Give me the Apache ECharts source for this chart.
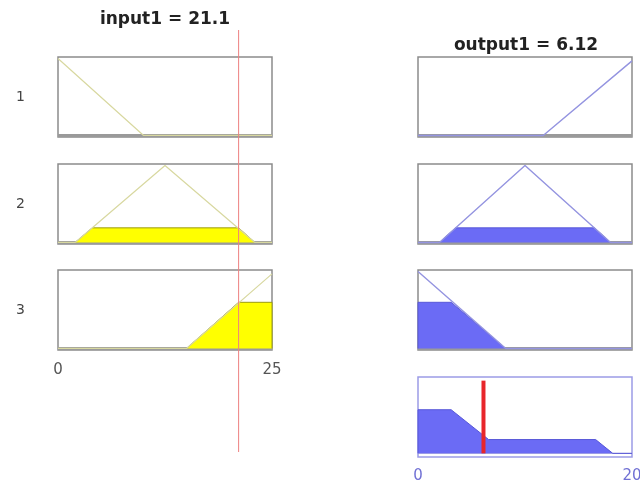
<!DOCTYPE html>
<html>
<head>
<meta charset="UTF-8">
<title>Rule viewer</title>
<style>
  * { margin: 0; padding: 0; }
  #main { width: 640px; height: 487px; background: #fff; }
</style>
<script src="https://cdn.jsdelivr.net/npm/echarts@6/dist/echarts.min.js"></script>
</head>
<body>
<div id="main"></div>
<script>
// values
var inputName = 'input1', inputValue = 21.1, inputRange = [0, 25];
var outputName = 'output1', outputValue = 6.12, outputRange = [0, 20];
var ruleLabels = ['1', '2', '3'];

// membership functions (x, degree)
var inMf1 = [[0, 1], [10, 0], [25, 0]];
var inMf2 = [[0, 0], [2, 0], [12.5, 1], [23, 0], [25, 0]];
var inMf3 = [[0, 0], [15, 0], [25, 0.97]];
var inFill2 = [[2, 0], [4, 0.19], [21.1, 0.19], [23, 0]];
var inFill3 = [[15, 0], [21.1, 0.6], [25, 0.6], [25, 0]];

var outMf1 = [[0, 0], [11.7, 0], [20, 0.97]];
var outMf2 = [[0, 0], [2, 0], [10, 1], [18, 0], [20, 0]];
var outMf3 = [[0, 1], [8.2, 0], [20, 0]];
var outFill2 = [[2, 0], [3.5, 0.19], [16.5, 0.19], [18, 0]];
var outFill3 = [[0, 0], [0, 0.6], [3.1, 0.6], [8.2, 0]];
var aggregate = [[0, 0], [0, 0.6], [3.1, 0.6], [6.6, 0.19], [16.6, 0.19], [18.2, 0], [20, 0]];

var inMfs = [inMf1, inMf2, inMf3];
var inFills = [null, inFill2, inFill3];
var outMfs = [outMf1, outMf2, outMf3];
var outFills = [null, outFill2, outFill3];

var font = 'DejaVu Sans';
var panelTops = [57, 164, 270];
var grids = [], xAxes = [], yAxes = [], series = [];

function addPanel(left, top, range, opts) {
  var i = grids.length;
  grids.push({
    left: left, top: top, width: 214, height: opts.height || 80,
    outerBoundsMode: 'none', containLabel: false,
    show: opts.border !== false,
    borderColor: opts.borderColor || '#8c8c8c', borderWidth: 1.5,
    backgroundColor: 'transparent'
  });
  xAxes.push({
    gridIndex: i, type: 'value', min: range[0], max: range[1],
    interval: range[1] - range[0],
    axisLine: { show: false }, axisTick: { show: false },
    splitLine: { show: false },
    axisLabel: {
      show: !!opts.labels, margin: opts.margin || 12,
      color: opts.labelColor || '#555', fontFamily: font, fontSize: 15
    }
  });
  yAxes.push({
    gridIndex: i, type: 'value', min: opts.ymin, max: opts.ymax,
    axisLine: { show: false }, axisTick: { show: false },
    splitLine: { show: false }, axisLabel: { show: false },
    name: opts.name || '', nameLocation: 'middle', nameRotate: 0, nameGap: 33,
    nameTextStyle: { color: '#444', fontFamily: font, fontSize: 14 }
  });
  return i;
}

function lineSeries(idx, data, color, width, z) {
  series.push({
    type: 'line', xAxisIndex: idx, yAxisIndex: idx, data: data,
    symbol: 'none', silent: true, animation: false, z: z || 3,
    lineStyle: { color: color, width: width }
  });
}

function fillSeries(idx, data, fill, edge) {
  series.push({
    type: 'line', xAxisIndex: idx, yAxisIndex: idx, data: data,
    symbol: 'none', silent: true, animation: false, z: 2,
    lineStyle: { color: edge, width: 1 },
    areaStyle: { color: fill, opacity: 1 }
  });
}

// input column
for (var r = 0; r < 3; r++) {
  var gi = addPanel(58, panelTops[r], inputRange, {
    ymin: -0.02, ymax: 1.02, name: ruleLabels[r], labels: r === 2, margin: 13
  });
  if (inFills[r]) fillSeries(gi, inFills[r], '#ffff00', '#9a9a10');
  lineSeries(gi, inMfs[r], '#d8d8a0', 1.2);
  lineSeries(gi, [[inputRange[0], 0], [inputRange[1], 0]], '#9a9a9a', 3, 1);
}

// output column
for (var r2 = 0; r2 < 3; r2++) {
  var go = addPanel(418, panelTops[r2], outputRange, { ymin: -0.02, ymax: 1.02 });
  if (outFills[r2]) fillSeries(go, outFills[r2], '#6b6bf5', '#5858d8');
  lineSeries(go, outMfs[r2], '#9494e0', 1.4);
  lineSeries(go, [[outputRange[0], 0], [outputRange[1], 0]], '#9a9a9a', 3, 1);
}

// aggregated output
var ga = addPanel(418, 377, outputRange, {
  ymin: -0.05, ymax: 1.05, labels: true, margin: 12,
  labelColor: '#7070d4', borderColor: '#9c9ce6'
});
fillSeries(ga, aggregate, '#6b6bf5', '#5858d8');
lineSeries(ga, [[outputRange[0], 0], [outputRange[1], 0]], '#a0a0dc', 1, 1);
lineSeries(ga, [[outputValue, 0], [outputValue, 1]], '#e8262b', 4, 5);

// input value line across the whole column
var gl = addPanel(58, 30, inputRange, { ymin: 0, ymax: 1, border: false, height: 422 });
lineSeries(gl, [[inputValue, 0], [inputValue, 1]], '#ee8080', 1, 6);

var myChart = echarts.init(document.getElementById('main'));
myChart.setOption({
  backgroundColor: '#fff',
  animation: false,
  title: [
    { text: inputName + ' = ' + inputValue, left: 160, top: 6, textAlign: 'center',
      textStyle: { fontFamily: font, fontSize: 17, fontWeight: 'bold', color: '#222' } },
    { text: outputName + ' = ' + outputValue, left: 521, top: 32, textAlign: 'center',
      textStyle: { fontFamily: font, fontSize: 17, fontWeight: 'bold', color: '#222' } }
  ],
  grid: grids,
  xAxis: xAxes,
  yAxis: yAxes,
  series: series
});
</script>
</body>
</html>
